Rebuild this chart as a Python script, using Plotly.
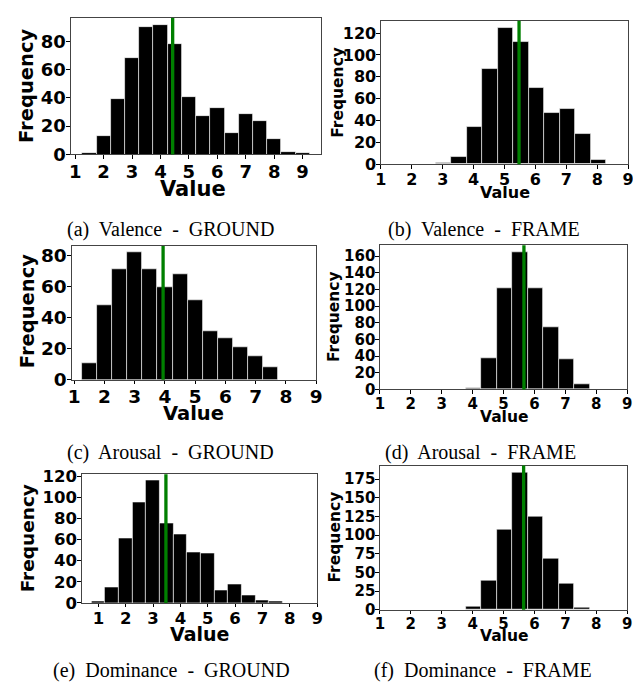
import plotly.graph_objects as go

# page body has an 8px margin -> figure drawn 8px in from the top-left corner
OFF = 8
W, H = 641 - OFF, 691 - OFF

# ---------------- data ----------------
val_ground_x = [1.5, 2.0, 2.5, 3.0, 3.5, 4.0, 4.5, 5.0, 5.5, 6.0, 6.5, 7.0, 7.5, 8.0, 8.5, 9.0]
val_ground_y = [1, 13, 39, 68, 90, 92, 78, 41, 27, 33, 15, 29, 24, 11, 2, 1]
val_ground_mean = 4.43

val_frame_x = [3.03, 3.53, 4.03, 4.53, 5.03, 5.53, 6.03, 6.53, 7.03, 7.53, 8.03]
val_frame_y = [1, 7, 34, 87, 125, 112, 70, 47, 51, 28, 4]
val_frame_mean = 5.47

aro_ground_x = [1.5, 2.0, 2.5, 3.0, 3.5, 4.0, 4.5, 5.0, 5.5, 6.0, 6.5, 7.0, 7.5]
aro_ground_y = [11, 48, 71, 82, 71, 60, 68, 51, 31, 27, 21, 15, 8]
aro_ground_mean = 3.94

aro_frame_x = [4.03, 4.53, 5.03, 5.53, 6.03, 6.53, 7.03, 7.53]
aro_frame_y = [1, 38, 122, 165, 122, 75, 37, 6]
aro_frame_mean = 5.66

dom_ground_x = [0.99, 1.49, 1.99, 2.49, 2.99, 3.49, 3.99, 4.49, 4.99, 5.49, 5.99, 6.49, 6.99, 7.49]
dom_ground_y = [2, 15, 61, 95, 116, 75, 65, 48, 47, 12, 18, 7, 3, 2]
dom_ground_mean = 3.47

dom_frame_x = [4.03, 4.53, 5.03, 5.53, 6.03, 6.53, 7.03, 7.53]
dom_frame_y = [5, 39, 108, 184, 125, 69, 35, 3]
dom_frame_mean = 5.65

x_ticks = [1, 2, 3, 4, 5, 6, 7, 8, 9]
bin_width = 0.5

captions = ["(a)\u00a0 Valence\u00a0 -\u00a0 GROUND", "(b)\u00a0 Valence\u00a0 -\u00a0 FRAME",
            "(c)\u00a0 Arousal\u00a0 -\u00a0 GROUND", "(d)\u00a0 Arousal\u00a0 -\u00a0 FRAME",
            "(e)\u00a0 Dominance\u00a0 -\u00a0 GROUND", "(f)\u00a0 Dominance\u00a0 -\u00a0 FRAME"]

# ---------------- layout spec (screen pixels) ----------------
panels = [
    dict(x=val_ground_x, y=val_ground_y, m=val_ground_mean, box=(66, 321, 11, 151), xr=[0.85, 9.65], yr=[0, 96.6], dt=20,
         tfs=18, ffs=19.5, vfs=21, fq=(20, 81), vl=(190, 186), cap=(168, 228)),
    dict(x=val_frame_x, y=val_frame_y, m=val_frame_mean, box=(382, 634, 14, 161), xr=[1, 9], yr=[0, 131.25], dt=20,
         tfs=16, ffs=15.5, vfs=16, fq=(338, 87), vl=(508, 190), cap=(487, 228)),
    dict(x=aro_ground_x, y=aro_ground_y, m=aro_ground_mean, box=(67, 316, 245, 382), xr=[0.925, 9], yr=[0, 86.1], dt=20,
         tfs=18.5, ffs=19.5, vfs=19.5, fq=(22, 312), vl=(191, 417), cap=(168, 457)),
    dict(x=aro_frame_x, y=aro_frame_y, m=aro_frame_mean, box=(381, 633, 244, 392), xr=[1, 9], yr=[0, 173.25], dt=20,
         tfs=15, ffs=15.5, vfs=15.5, fq=(335, 317), vl=(507, 420), cap=(484, 457)),
    dict(x=dom_ground_x, y=dom_ground_y, m=dom_ground_mean, box=(77, 317, 479, 611), xr=[0.39, 9], yr=[0, 121.8], dt=20,
         tfs=16.5, ffs=18.5, vfs=19, fq=(22, 545), vl=(197, 643), cap=(169, 680)),
    dict(x=dom_frame_x, y=dom_frame_y, m=dom_frame_mean, box=(381, 633, 470, 618), xr=[1, 9], yr=[0, 193.2], dt=25,
         tfs=15, ffs=15.5, vfs=15.5, fq=(335, 543), vl=(507, 645), cap=(486, 680)),
]

fig = go.Figure()
layout = dict(width=W, height=H, margin=dict(l=0, r=0, t=0, b=0), plot_bgcolor="white",
              paper_bgcolor="white", showlegend=False, bargap=0)
annotations = []
shapes = []

def px(xp):
    return (xp - OFF) / W

def py(yp):
    return 1 - (yp - OFF) / H

for i, p in enumerate(panels):
    n = "" if i == 0 else str(i + 1)
    fig.add_trace(go.Bar(x=p["x"], y=p["y"], width=bin_width, marker=dict(color="black", line=dict(color="white", width=0.6)),
                         xaxis="x" + n, yaxis="y" + n))
    l, r, t, b = p["box"]
    font = dict(family="DejaVu Sans", size=p["tfs"], color="black", weight=700)
    common = dict(ticks="outside", ticklen=3.5, tickcolor="black", tickfont=font, ticklabelstandoff=-3,
                  showline=True, mirror=True, linecolor="#444", linewidth=1,
                  showgrid=False, zeroline=False, fixedrange=True)
    layout["xaxis" + n] = dict(domain=[px(l), px(r)], anchor="y" + n, range=p["xr"], tickvals=x_ticks, **common)
    layout["yaxis" + n] = dict(domain=[py(b), py(t)], anchor="x" + n, range=p["yr"], dtick=p["dt"], tick0=0, **common)
    shapes.append(dict(type="line", xref="x" + n, yref="y" + n + " domain", x0=p["m"], x1=p["m"], y0=0, y1=1,
                       line=dict(color="green", width=3.3), layer="above"))
    annotations.append(dict(text="Frequency", xref="paper", yref="paper", x=px(p["fq"][0]), y=py(p["fq"][1]),
                            textangle=-90, showarrow=False, xanchor="center", yanchor="middle",
                            font=dict(family="DejaVu Sans", size=p["ffs"], color="black", weight=700)))
    annotations.append(dict(text="Value", xref="paper", yref="paper", x=px(p["vl"][0]), y=py(p["vl"][1]),
                            showarrow=False, xanchor="center", yanchor="middle",
                            font=dict(family="DejaVu Sans", size=p["vfs"], color="black", weight=700)))
    annotations.append(dict(text=captions[i], xref="paper", yref="paper", x=px(p["cap"][0]), y=py(p["cap"][1]),
                            showarrow=False, font=dict(family="Liberation Serif", size=20, color="black"),
                            xanchor="center", yanchor="middle"))

layout["annotations"] = annotations
layout["shapes"] = shapes
fig.update_layout(**layout)
fig.write_html("out.html", config={"displayModeBar": False})
